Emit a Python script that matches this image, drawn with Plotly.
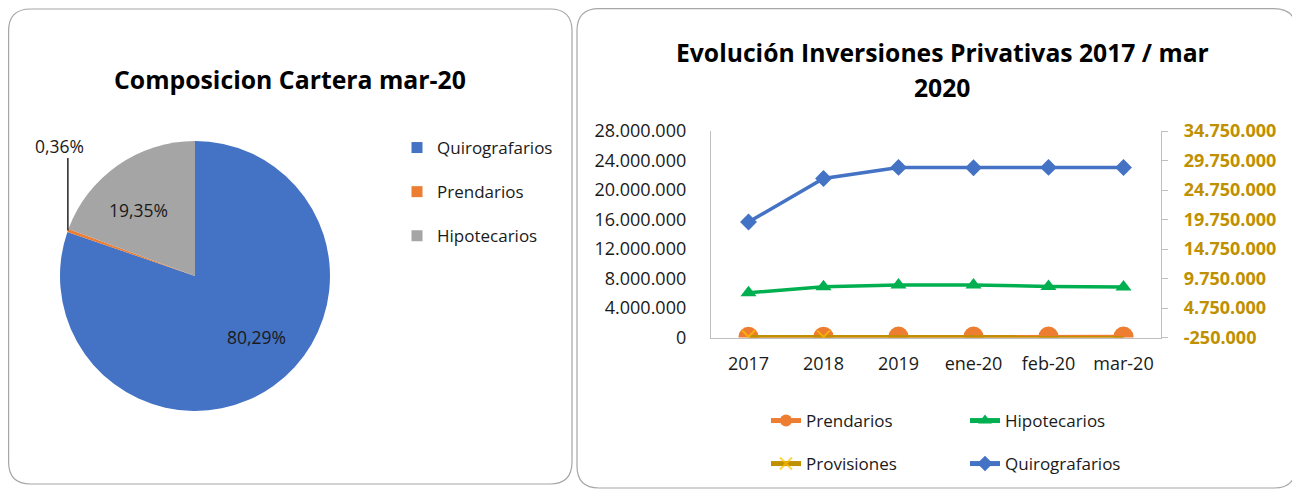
import math
import plotly.graph_objects as go

# ---------------- data ----------------
pie_title = "Composicion Cartera mar-20"
pie_labels = ["Quirografarios", "Prendarios", "Hipotecarios"]
pie_values = [80.29, 0.36, 19.35]  # percent

line_title = ["Evolución Inversiones Privativas 2017 / mar", "2020"]
categories = ["2017", "2018", "2019", "ene-20", "feb-20", "mar-20"]
prendarios = [95000, 110000, 125000, 128000, 127000, 126000]
hipotecarios = [6070000, 6890000, 7120000, 7120000, 6920000, 6860000]
provisiones = [-120000, -150000, -160000, -170000, -165000, -170000]
quirografarios = [19330000, 26690000, 28580000, 28520000, 28580000, 28560000]

y1_ticks = [0, 4000000, 8000000, 12000000, 16000000, 20000000, 24000000, 28000000]
y2_ticks = [-250000, 4750000, 9750000, 14750000, 19750000, 24750000, 29750000, 34750000]

# ---------------- styling ----------------
OFF = 8                      # page body margin
W, H = 1300 - OFF, 491 - OFF
FONT = "Open Sans"
TXT = "#1a1a1a"
C_BLUE = "#4472C4"
C_ORANGE = "#ED7D31"
C_GRAY = "#A5A5A5"
C_GREEN = "#00B050"
C_GOLD = "#BF9000"
C_YELLOW = "#FFC000"
AX = "#BFBFBF"


def X(px):
    return (px - OFF) / W


def Y(py):
    return 1 - (py - OFF) / H


def fmt(v):
    s = f"{abs(int(v)):,}".replace(",", ".")
    return ("-" if v < 0 else "") + s


def rrect(x0, y0, x1, y1, r):
    rx, ry = r / W, r / H
    a, b, c, d = X(x0), Y(y0), X(x1), Y(y1)  # b top, d bottom
    return (f"M {a+rx},{b} L {c-rx},{b} Q {c},{b} {c},{b-ry} "
            f"L {c},{d+ry} Q {c},{d} {c-rx},{d} L {a+rx},{d} "
            f"Q {a},{d} {a},{d+ry} L {a},{b-ry} Q {a},{b} {a+rx},{b} Z")


def label(px, py, text, size, color=TXT, bold=False):
    return dict(x=X(px), y=Y(py), xref="paper", yref="paper",
                xanchor="center", yanchor="middle",
                text=f"<b>{text}</b>" if bold else text, showarrow=False,
                font=dict(family=FONT, size=size, color=color))


fig = go.Figure()

# ---------------- pie ----------------
pie_cx, pie_cy, pie_r = 195, 276, 135
pie_colors = [C_BLUE, C_ORANGE, C_GRAY]
fig.add_trace(go.Pie(
    labels=pie_labels, values=pie_values, sort=False, direction="clockwise",
    rotation=0, marker=dict(colors=pie_colors, line=dict(width=0)),
    textinfo="none", showlegend=False,
    domain=dict(x=[X(pie_cx - pie_r), X(pie_cx + pie_r)],
                y=[Y(pie_cy + pie_r), Y(pie_cy - pie_r)]),
))
# pie legend proxies (one group each for spacing)
for lab, col in zip(pie_labels, pie_colors):
    fig.add_trace(go.Scatter(
        x=[None], y=[None], mode="markers", name=lab, legend="legend",
        legendgroup=lab,
        marker=dict(symbol="square", size=11, color=col),
    ))

annotations = []
shapes = []
total = sum(pie_values)
cum = 0.0
for lab, v in zip(pie_labels, pie_values):
    frac = v / total
    mid = (cum + v / 2) / total * 2 * math.pi
    cum += v
    txt = f"{v:.2f}%".replace(".", ",")
    if frac > 0.02:
        # large slices: label pulled toward the horizontal diagonal (Excel best fit)
        ang = mid - 0.17 if frac > 0.5 else mid - 0.1
        rr = 0.64 * pie_r
        px = pie_cx + rr * math.sin(ang)
        py = pie_cy - rr * math.cos(ang)
        annotations.append(label(px, py, txt, 17.5))
    else:
        px = pie_cx + pie_r * math.sin(mid)
        py = pie_cy - pie_r * math.cos(mid)
        top = pie_cy - pie_r + 17
        shapes.append(dict(type="line", xref="paper", yref="paper",
                           x0=X(px), y0=Y(py), x1=X(px), y1=Y(top),
                           line=dict(color="#000000", width=1.3)))
        annotations.append(label(px - 8, top - 12, txt, 17.5))

# ---------------- line chart ----------------
fig.add_trace(go.Scatter(
    x=categories, y=prendarios, name="Prendarios", mode="lines+markers",
    line=dict(color=C_ORANGE, width=3.5),
    marker=dict(symbol="circle", size=20, color=C_ORANGE),
    legend="legend2", yaxis="y",
))
fig.add_trace(go.Scatter(
    x=categories, y=hipotecarios, name="Hipotecarios", mode="lines+markers",
    line=dict(color=C_GREEN, width=3.5),
    marker=dict(symbol="triangle-up", size=14, color=C_GREEN),
    legend="legend2", yaxis="y",
))
fig.add_trace(go.Scatter(
    x=categories, y=provisiones, name="Provisiones", mode="lines+markers",
    line=dict(color=C_GOLD, width=3.5),
    marker=dict(symbol="x-thin", size=[13, 13, 0, 0, 0, 0],
                line=dict(color=C_YELLOW, width=2), color=C_YELLOW),
    legend="legend3", yaxis="y2",
))
fig.add_trace(go.Scatter(
    x=categories, y=quirografarios, name="Quirografarios", mode="lines+markers",
    line=dict(color=C_BLUE, width=3.5),
    marker=dict(symbol="diamond", size=13, color=C_BLUE),
    legend="legend3", yaxis="y2",
))

# titles
annotations.append(label(290, 79, pie_title, 24.8, "#000000", True))
annotations.append(label(942, 53, line_title[0], 24.7, "#000000", True))
annotations.append(label(942, 88, line_title[1], 24.7, "#000000", True))

# panel borders
shapes.append(dict(type="path", xref="paper", yref="paper",
                   path=rrect(8.6, 9, 572, 484, 22),
                   line=dict(color="#A6A6A6", width=1.2)))
shapes.append(dict(type="path", xref="paper", yref="paper",
                   path=rrect(577, 8.6, 1296, 488, 22),
                   line=dict(color="#A6A6A6", width=1.2)))

x_l, x_r = 711, 1161
y_t, y_b = 131, 337.5

fig.update_layout(
    width=W, height=H,
    margin=dict(l=0, r=0, t=0, b=0, autoexpand=False),
    paper_bgcolor="white", plot_bgcolor="rgba(0,0,0,0)",
    separators=",.",
    font=dict(family=FONT, color=TXT, size=17),
    xaxis=dict(domain=[X(x_l), X(x_r)], type="category", range=[-0.5, 5.5],
               showline=True, linecolor=AX, linewidth=1.3, showgrid=False,
               zeroline=False, ticks="", ticklabelstandoff=10, automargin=False,
               tickfont=dict(family=FONT, size=18, color=TXT)),
    yaxis=dict(domain=[Y(y_b), Y(y_t)], range=[0, 28000000],
               tickvals=y1_ticks, ticktext=[fmt(v) for v in y1_ticks],
               showline=True, linecolor=AX, linewidth=1.3, showgrid=False,
               zeroline=False, ticks="", ticklabelstandoff=20, automargin=False,
               tickfont=dict(family=FONT, size=18, color=TXT)),
    yaxis2=dict(overlaying="y", side="right", anchor="x",
                range=[-250000, 34750000],
                tickvals=y2_ticks, ticktext=[fmt(v) for v in y2_ticks],
                showline=True, linecolor=AX, linewidth=1.3, showgrid=False,
                zeroline=False, ticks="outside", ticklen=6, tickcolor=AX,
                ticklabelstandoff=12, automargin=False,
                tickfont=dict(family=FONT, size=18, color=C_GOLD, weight="bold")),
    legend=dict(x=X(397), y=Y(130), xanchor="left", yanchor="top",
                orientation="v", tracegroupgap=19, bgcolor="rgba(0,0,0,0)",
                font=dict(family=FONT, size=17, color=TXT), itemwidth=30),
    legend2=dict(x=X(766), y=Y(421), xanchor="left", yanchor="middle",
                 orientation="h", entrywidth=154, entrywidthmode="pixels",
                 bgcolor="rgba(0,0,0,0)", itemsizing="constant",
                 font=dict(family=FONT, size=17, color=TXT)),
    legend3=dict(x=X(766), y=Y(464), xanchor="left", yanchor="middle",
                 orientation="h", entrywidth=154, entrywidthmode="pixels",
                 bgcolor="rgba(0,0,0,0)", itemsizing="constant",
                 font=dict(family=FONT, size=17, color=TXT)),
    annotations=annotations,
    shapes=shapes,
    showlegend=True,
)

fig.write_html("out.html")
